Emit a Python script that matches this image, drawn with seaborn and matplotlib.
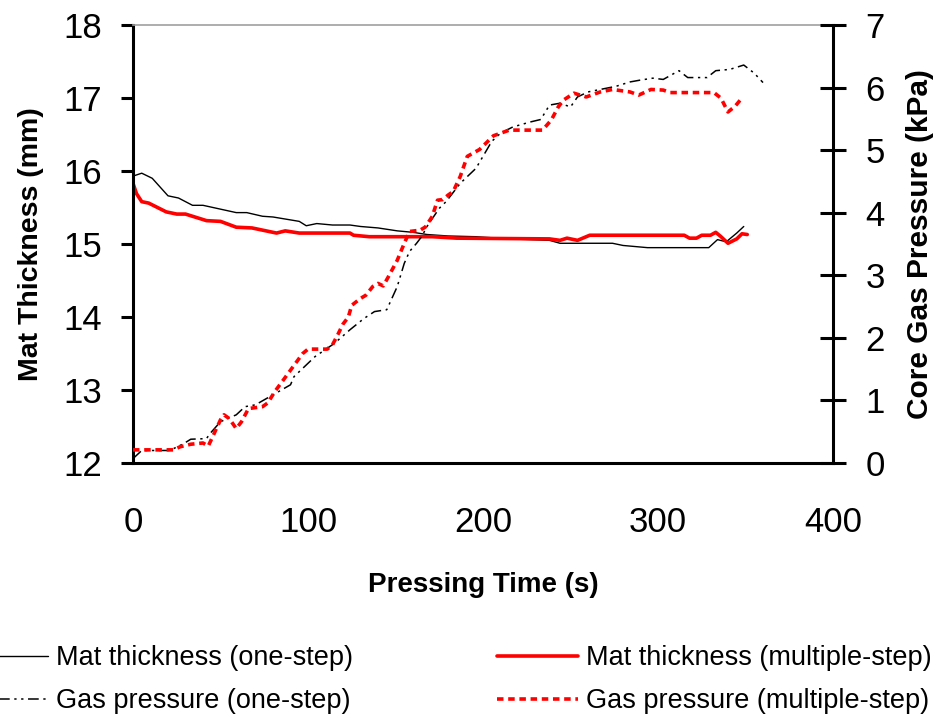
import matplotlib
matplotlib.use('Agg')
import matplotlib.pyplot as plt
import seaborn as sns

# Mat thickness, one-step pressing (mm)
t_mat_one = [0, 5, 11, 20, 26, 34, 40, 59, 65, 74, 80, 95, 99, 105, 114, 124, 130, 140,
             151, 160, 168, 180, 196, 215, 238, 244, 260, 274, 280, 294, 310, 329, 334,
             339, 345, 349]
mat_one = [15.93, 15.97, 15.90, 15.66, 15.63, 15.53, 15.53, 15.43, 15.43, 15.38, 15.37,
           15.31, 15.25, 15.28, 15.26, 15.26, 15.24, 15.22, 15.18, 15.16, 15.13, 15.11,
           15.10, 15.07, 15.05, 15.01, 15.01, 15.01, 14.98, 14.95, 14.95, 14.95, 15.06,
           15.03, 15.15, 15.24]

# Mat thickness, multiple-step pressing (mm)
t_mat_multi = [0, 2, 5, 9, 19, 25, 30, 42, 50, 59, 68, 82, 87, 95, 124, 126, 135, 171,
               185, 238, 244, 248, 254, 261, 315, 318, 322, 325, 330, 333, 336, 340, 345,
               348, 351]
mat_multi = [15.83, 15.69, 15.58, 15.56, 15.44, 15.41, 15.41, 15.32, 15.31, 15.23, 15.22,
             15.15, 15.18, 15.15, 15.15, 15.12, 15.10, 15.10, 15.08, 15.07, 15.05, 15.08,
             15.05, 15.12, 15.12, 15.08, 15.08, 15.12, 15.12, 15.16, 15.10, 15.01, 15.07,
             15.14, 15.13]

# Core gas pressure, one-step (kPa)
t_gas_one = [0, 5, 21, 29, 33, 42, 44, 50, 59, 64, 70, 80, 90, 92, 104, 115, 124, 132,
             138, 145, 151, 155, 158, 162, 165, 168, 175, 179, 187, 196, 205, 210, 217,
             227, 233, 238, 244, 250, 254, 260, 267, 276, 284, 290, 297, 303, 312, 317,
             328, 333, 341, 349, 355, 360]
gas_one = [0.07, 0.20, 0.20, 0.31, 0.38, 0.39, 0.47, 0.66, 0.77, 0.90, 0.93, 1.09, 1.25,
           1.38, 1.70, 1.91, 2.13, 2.31, 2.42, 2.45, 2.82, 3.19, 3.38, 3.51, 3.62, 3.78,
           4.07, 4.18, 4.47, 4.71, 5.14, 5.27, 5.37, 5.45, 5.49, 5.72, 5.75, 5.69, 5.85,
           5.93, 5.97, 6.02, 6.09, 6.12, 6.15, 6.13, 6.27, 6.16, 6.16, 6.27, 6.29, 6.36,
           6.23, 6.08]

# Core gas pressure, multiple-step (kPa)
t_gas_multi = [0, 23, 27, 33, 40, 43, 46, 50, 52, 55, 59, 62, 66, 74, 77, 81, 86, 92, 97,
               100, 111, 114, 117, 120, 123, 125, 130, 133, 137, 140, 143, 146, 151, 155,
               158, 164, 167, 171, 174, 177, 180, 183, 187, 191, 198, 206, 215, 234, 239,
               243, 246, 252, 259, 267, 274, 284, 289, 296, 303, 307, 332, 336, 340, 344,
               347]
gas_multi = [0.21, 0.21, 0.26, 0.30, 0.32, 0.27, 0.45, 0.69, 0.77, 0.71, 0.55, 0.66, 0.87,
             0.90, 0.96, 1.14, 1.33, 1.56, 1.75, 1.82, 1.82, 1.89, 2.05, 2.22, 2.33, 2.52,
             2.63, 2.68, 2.82, 2.87, 2.83, 2.98, 3.24, 3.51, 3.70, 3.72, 3.77, 3.94, 4.20,
             4.21, 4.28, 4.34, 4.58, 4.90, 5.01, 5.23, 5.32, 5.32, 5.48, 5.69, 5.80, 5.91,
             5.85, 5.93, 5.97, 5.93, 5.88, 5.97, 5.96, 5.92, 5.92, 5.83, 5.61, 5.70, 5.80]

x_ticks = [0, 100, 200, 300, 400]
left_ticks = [12, 13, 14, 15, 16, 17, 18]
right_ticks = [0, 1, 2, 3, 4, 5, 6, 7]

sns.set_style("white")
plt.rcParams['font.family'] = ['Liberation Sans', 'DejaVu Sans']
plt.rcParams['text.color'] = 'black'
plt.rcParams['axes.labelcolor'] = 'black'

fig = plt.figure(figsize=(9.36, 7.17), dpi=100)
ax = fig.add_axes([133 / 936, 254 / 717, 700 / 936, 438 / 717])
ax2 = ax.twinx()

sns.lineplot(x=t_mat_one, y=mat_one, ax=ax, color='black', linewidth=1.0,
             sort=False, estimator=None, label='Mat thickness (one-step)', legend=False)
sns.lineplot(x=t_mat_multi, y=mat_multi, ax=ax, color='#ff0000', linewidth=2.6,
             sort=False, estimator=None, label='Mat thickness (multiple-step)', legend=False)
sns.lineplot(x=t_gas_one, y=gas_one, ax=ax2, color='black', linewidth=1.1,
             linestyle=(0, (7, 3, 1.5, 3, 1.5, 3)),
             sort=False, estimator=None, label='Gas pressure (one-step)', legend=False)
sns.lineplot(x=t_gas_multi, y=gas_multi, ax=ax2, color='#ff0000', linewidth=2.6,
             linestyle=(0, (1.8, 1.3)),
             sort=False, estimator=None, label='Gas pressure (multiple-step)', legend=False)

ax.set_xlim(0, 400)
ax.set_ylim(12, 18)
ax2.set_ylim(0, 7)
ax.set_xticks(x_ticks)
ax.set_yticks(left_ticks)
ax2.set_yticks(right_ticks)

for s in ['left', 'bottom']:
    ax.spines[s].set_color('black')
    ax.spines[s].set_linewidth(2.2)
ax.spines['right'].set_visible(False)
ax.spines['top'].set_color('#a0a0a0')
ax.spines['top'].set_linewidth(1.2)
for s in ['left', 'bottom', 'top']:
    ax2.spines[s].set_visible(False)
ax2.spines['right'].set_color('black')
ax2.spines['right'].set_linewidth(2.2)

ax.tick_params(axis='y', direction='out', length=9, width=2.2, pad=13, labelsize=25,
               colors='black')
ax.tick_params(axis='x', direction='out', length=7, width=2.2, pad=24, labelsize=25,
               colors='black')
ax2.tick_params(axis='y', direction='inout', length=19, width=2.2, pad=14, labelsize=25,
                colors='black')

ax.set_xlabel('Pressing Time (s)', fontsize=20, fontweight='bold', labelpad=24)
ax.set_ylabel('Mat Thickness (mm)', fontsize=20.5, fontweight='bold', labelpad=14)
ax2.set_ylabel('Core Gas Pressure (kPa)', fontsize=21.5, fontweight='bold', labelpad=15)

l1, l2 = ax.get_lines()[:2]
g1, g2 = ax2.get_lines()[:2]
fig.legend([l1, g1, l2, g2],
           [l1.get_label(), g1.get_label(), l2.get_label(), g2.get_label()],
           ncol=2, loc='upper left', bbox_to_anchor=(-33 / 936, 0.100),
           frameon=False, fontsize=19.5, handlelength=3.0, handletextpad=0.3,
           columnspacing=5.3, labelspacing=0.62, borderpad=0, borderaxespad=0)

fig.savefig('out.png', dpi=100)
